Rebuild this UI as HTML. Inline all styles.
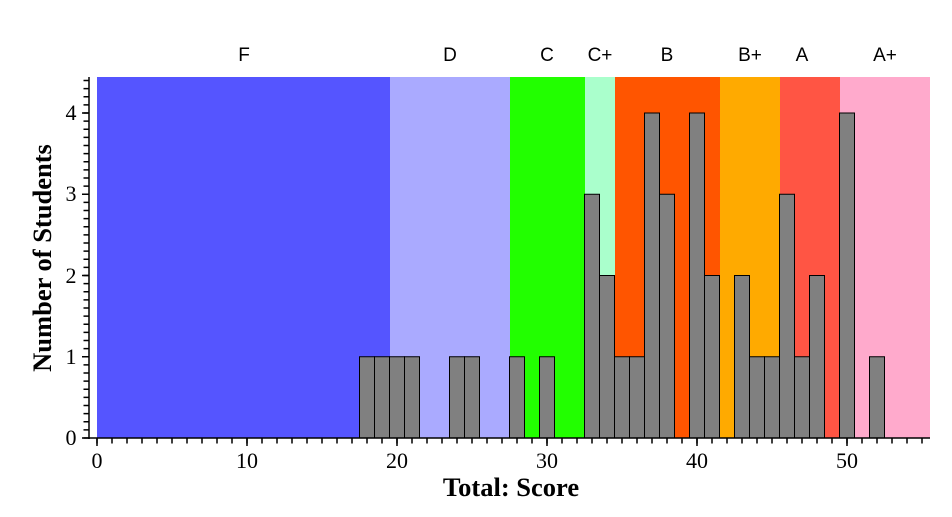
<!DOCTYPE html>
<html><head><style>body{margin:0;background:#fff}svg{display:block}</style></head><body>
<svg width="952" height="517" xmlns="http://www.w3.org/2000/svg">
<rect x="97" y="77" width="293" height="361" fill="#5555ff"/>
<rect x="390" y="77" width="120" height="361" fill="#aaaaff"/>
<rect x="510" y="77" width="75" height="361" fill="#22ff00"/>
<rect x="585" y="77" width="30" height="361" fill="#aaffcc"/>
<rect x="615" y="77" width="105" height="361" fill="#ff5500"/>
<rect x="720" y="77" width="60" height="361" fill="#ffaa00"/>
<rect x="780" y="77" width="60" height="361" fill="#ff5544"/>
<rect x="840" y="77" width="90" height="361" fill="#ffaacc"/>
<g fill="#808080" stroke="#000" stroke-width="1">
<rect x="359.5" y="356.75" width="15" height="81.25"/>
<rect x="374.5" y="356.75" width="15" height="81.25"/>
<rect x="389.5" y="356.75" width="15" height="81.25"/>
<rect x="404.5" y="356.75" width="15" height="81.25"/>
<rect x="449.5" y="356.75" width="15" height="81.25"/>
<rect x="464.5" y="356.75" width="15" height="81.25"/>
<rect x="509.5" y="356.75" width="15" height="81.25"/>
<rect x="539.5" y="356.75" width="15" height="81.25"/>
<rect x="584.5" y="194.25" width="15" height="243.75"/>
<rect x="599.5" y="275.5" width="15" height="162.5"/>
<rect x="614.5" y="356.75" width="15" height="81.25"/>
<rect x="629.5" y="356.75" width="15" height="81.25"/>
<rect x="644.5" y="113" width="15" height="325"/>
<rect x="659.5" y="194.25" width="15" height="243.75"/>
<rect x="689.5" y="113" width="15" height="325"/>
<rect x="704.5" y="275.5" width="15" height="162.5"/>
<rect x="734.5" y="275.5" width="15" height="162.5"/>
<rect x="749.5" y="356.75" width="15" height="81.25"/>
<rect x="764.5" y="356.75" width="15" height="81.25"/>
<rect x="779.5" y="194.25" width="15" height="243.75"/>
<rect x="794.5" y="356.75" width="15" height="81.25"/>
<rect x="809.5" y="275.5" width="15" height="162.5"/>
<rect x="839.5" y="113" width="15" height="325"/>
<rect x="869.5" y="356.75" width="15" height="81.25"/>
</g>
<g font-family="Liberation Sans, sans-serif" font-size="19" text-anchor="middle">
<text x="244" y="61">F</text><text x="450" y="61">D</text><text x="547" y="61">C</text>
<text x="600" y="61">C+</text><text x="667" y="61">B</text><text x="750" y="61">B+</text>
<text x="802" y="61">A</text><text x="885" y="61">A+</text>
</g>
<g stroke="#000">
<line x1="89" y1="77" x2="89" y2="439" stroke-width="1.5"/>
<line x1="89" y1="438" x2="930" y2="438" stroke-width="1.5"/>
<line x1="96.25" y1="441" x2="930" y2="441" stroke-width="5" stroke-dasharray="1.5 13.5"/>
<line x1="86" y1="438.75" x2="86" y2="77" stroke-width="5" stroke-dasharray="1.5 6.625"/>
<path d="M97 438V446M247 438V446M397 438V446M547 438V446M697 438V446M847 438V446M89 438H82M89 356.75H82M89 275.5H82M89 194.25H82M89 113H82" stroke-width="1.5"/>
</g>
<g font-family="Liberation Serif, serif" font-size="22" text-anchor="middle">
<text x="97" y="468">0</text><text x="247" y="468">10</text><text x="397" y="468">20</text>
<text x="547" y="468">30</text><text x="697" y="468">40</text><text x="847" y="468">50</text>
<text x="71" y="445">0</text><text x="71" y="364">1</text><text x="71" y="283">2</text>
<text x="71" y="201">3</text><text x="71" y="120">4</text>
</g>
<text x="511" y="496" font-family="Liberation Serif, serif" font-size="26.5" font-weight="bold" text-anchor="middle">Total: Score</text>
<text transform="translate(51,258) rotate(-90)" font-family="Liberation Serif, serif" font-size="26.5" font-weight="bold" text-anchor="middle">Number of Students</text>
</svg>
</body></html>
